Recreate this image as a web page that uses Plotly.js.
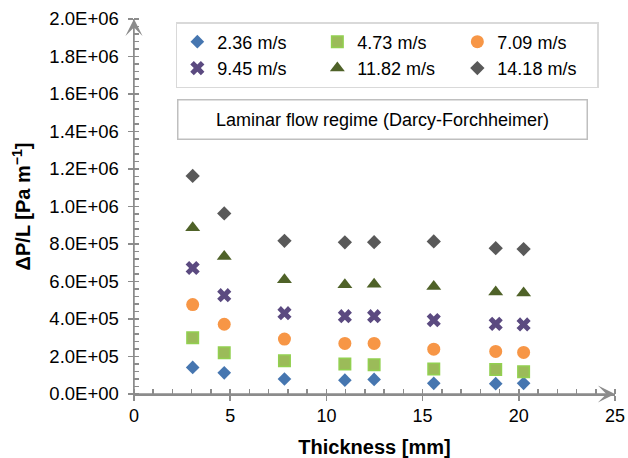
<!DOCTYPE html>
<html>
<head>
<meta charset="utf-8">
<script src="https://cdn.plot.ly/plotly-3.0.1.min.js"></script>
<style>html,body{margin:0;padding:0;background:#fff}#chart{width:628px;height:458px}</style>
</head>
<body>
<div id="chart"></div>
<script>
// Data
const thickness = [3.05, 4.69, 7.82, 10.96, 12.48, 15.58, 18.8, 20.25];
const seriesNames = ["2.36 m/s", "4.73 m/s", "7.09 m/s", "9.45 m/s", "11.82 m/s", "14.18 m/s"];
const v236 = [142000, 113000, 80000, 74000, 78000, 57000, 55000, 57000];
const v473 = [300000, 220000, 177000, 160000, 156000, 133000, 131000, 119000];
const v709 = [477000, 372000, 293000, 270000, 270000, 239000, 227000, 222000];
const v945 = [672000, 527000, 431000, 415000, 415000, 394000, 374000, 371000];
const v1182 = [887000, 734000, 610000, 583000, 585000, 574000, 544000, 539000];
const v1418 = [1163000, 963000, 817000, 809000, 810000, 814000, 778000, 773000];
const yTickVals = [0, 200000, 400000, 600000, 800000, 1000000, 1200000, 1400000, 1600000, 1800000, 2000000];
const yTickText = ["0.0E+00", "2.0E+05", "4.0E+05", "6.0E+05", "8.0E+05", "1.0E+06", "1.2E+06", "1.4E+06", "1.6E+06", "1.8E+06", "2.0E+06"];
const xTickVals = [0, 5, 10, 15, 20, 25];
const noteText = "Laminar flow regime (Darcy-Forchheimer)";

const FONT = "Liberation Sans, Arial, sans-serif";
const AX = "#8c8c8c";

const seriesValues = [v236, v473, v709, v945, v1182, v1418];
const styles = [
  {symbol: "diamond", size: 10.5, color: "#4676b0", line: {width: 0}},
  {symbol: "square", size: 11.5, color: "#9bbb59", line: {width: 1.5, color: "#92d050"}},
  {symbol: "circle", size: 13, color: "#f79646", line: {width: 0}},
  {symbol: "x", size: 12.5, color: "#5b4a80", line: {width: 0}},
  {symbol: "triangle-up", size: 13, color: "#4f6228", line: {width: 0}},
  {symbol: "diamond", size: 11, color: "#595959", line: {width: 0}}
];

const traces = seriesValues.map((vals, i) => ({
  type: "scatter",
  mode: "markers",
  name: seriesNames[i],
  x: thickness,
  y: vals,
  marker: styles[i],
  cliponaxis: false
}));

const layout = {
  width: 628,
  height: 458,
  margin: {l: 134, r: 13, t: 19, b: 64},
  paper_bgcolor: "#ffffff",
  plot_bgcolor: "#ffffff",
  font: {family: FONT, size: 18, color: "#000000"},
  showlegend: true,
  legend: {
    orientation: "h",
    x: 0.087, xanchor: "left",
    y: 0.992, yanchor: "top",
    entrywidth: 95, entrywidthmode: "pixels",
    bordercolor: "#d9d9d9", borderwidth: 1.5,
    bgcolor: "#ffffff",
    font: {family: FONT, size: 18, color: "#000000"},
    traceorder: "normal"
  },
  xaxis: {
    range: [0, 25],
    tickmode: "array",
    tickvals: xTickVals,
    ticks: "outside", ticklen: 5, tickwidth: 1.5, tickcolor: AX,
    minor: {dtick: 1, tick0: 0, ticks: "inside", ticklen: 5, tickwidth: 1.5, tickcolor: AX},
    showline: true, linecolor: AX, linewidth: 1.5,
    showgrid: false, zeroline: false,
    tickfont: {family: FONT, size: 18, color: "#000000"},
    title: {text: "<b>Thickness [mm]</b>", font: {family: FONT, size: 20, color: "#000000"}, standoff: 17}
  },
  yaxis: {
    range: [0, 2000000],
    tickmode: "array",
    tickvals: yTickVals,
    ticktext: yTickText,
    ticks: "outside", ticklen: 5, tickwidth: 1.5, tickcolor: AX,
    ticklabelstandoff: 5,
    minor: {dtick: 40000, tick0: 0, ticks: "inside", ticklen: 5, tickwidth: 1.5, tickcolor: AX},
    showline: true, linecolor: AX, linewidth: 1.5,
    showgrid: false, zeroline: false,
    tickfont: {family: FONT, size: 18.5, color: "#000000"},
    title: {text: "<b>ΔP/L [Pa m<sup>−1</sup>]</b>", font: {family: FONT, size: 20, color: "#000000"}, standoff: 13}
  },
  annotations: [
    {
      xref: "paper", yref: "paper", x: 0.516, y: 0.733,
      xanchor: "center", yanchor: "middle",
      text: noteText, showarrow: false,
      font: {family: FONT, size: 18, color: "#000000"},
      width: 402, height: 32, borderpad: 3,
      bordercolor: "#bfbfbf", borderwidth: 1.5, bgcolor: "#ffffff"
    },
    {
      xref: "x", yref: "y", axref: "x", ayref: "y",
      x: 25, y: 0, ax: 0, ay: 0, text: "",
      showarrow: true, arrowhead: 3, arrowsize: 1.9, arrowwidth: 1.5, arrowcolor: AX
    },
    {
      xref: "x", yref: "y", axref: "x", ayref: "y",
      x: 0, y: 2000000, ax: 0, ay: 0, text: "",
      showarrow: true, arrowhead: 3, arrowsize: 1.9, arrowwidth: 1.5, arrowcolor: AX
    }
  ]
};

Plotly.newPlot("chart", traces, layout, {displayModeBar: false, staticPlot: true});
</script>
</body>
</html>
